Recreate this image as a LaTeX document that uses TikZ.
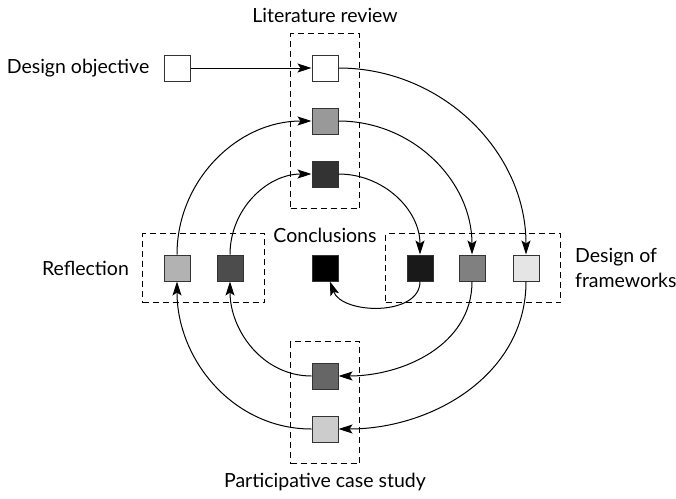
\documentclass[tikz,border=0pt]{standalone}
\usepackage{fontspec}
\setmainfont{Lato}
\usetikzlibrary{arrows.meta,fit}
\definecolor{edgegray}{HTML}{333333}
\begin{document}
\begin{tikzpicture}[x=1pt,y=1pt,
  box/.style={draw=edgegray, line width=1pt, minimum size=26pt, inner sep=0pt},
  group/.style={draw, dash pattern=on 6pt off 4pt, line width=0.9pt, inner sep=21pt},
  flow/.style={-{Stealth[length=14pt,width=9pt,inset=3pt]}, line width=1pt},
  lbl/.style={font=\fontsize{19.5}{25}\selectfont, inner sep=0pt}]
\useasboundingbox (0,0) rectangle (676,-498);

% steps
\node[box, fill=white]          (obj) at (177,-68)  {};
\node[box, fill=white]          (l1)  at (325,-68)  {};
\node[box, fill=black!40]       (l2)  at (325,-121) {};
\node[box, fill=black!80]       (l3)  at (325,-174) {};
\node[box, fill=black!90]       (f1)  at (420,-268) {};
\node[box, fill=black!50]       (f2)  at (472,-268) {};
\node[box, fill=black!10]       (f3)  at (526,-268) {};
\node[box, fill=black]          (c)   at (325,-268) {};
\node[box, fill=black!30]       (r1)  at (177,-268) {};
\node[box, fill=black!70]       (r2)  at (230,-268) {};
\node[box, fill=black!60]       (p1)  at (325,-376) {};
\node[box, fill=black!20]       (p2)  at (325,-429) {};

% phase groups
\node[group, fit=(l1)(l3)] (glit) {};
\node[group, fit=(f1)(f3)] (gfw)  {};
\node[group, fit=(r1)(r2)] (gref) {};
\node[group, fit=(p1)(p2)] (gcase) {};

% labels
\node[lbl] (tlit)  at (325,-15)  {Literature review};
\node[lbl, anchor=east] (tobj) at ([xshift=-14pt]obj.west) {Design objective};
\node[lbl, anchor=east] (tref) at ([xshift=-13pt]gref.west) {Reflection};
\node[lbl] (tcon)  at (325,-235) {Conclusions};
\node[lbl, anchor=west, align=left] (tfw) at ([xshift=14pt]gfw.east) {Design of\\frameworks};
\node[lbl] (tcase) at (325,-482) {Participative case study};

% flow between steps
\draw[flow] (obj) -- (l1);
\draw[flow] (l1.east) to[out=0,in=90] (f3.north);
\draw[flow] (l2.east) to[out=0,in=90] (f2.north);
\draw[flow] (l3.east) to[out=0,in=90] (f1.north);
\draw[flow] (f1.south) to[out=-90,in=-70] (c.-70);
\draw[flow] (f2.south) to[out=-90,in=0] (p1.east);
\draw[flow] (f3.south) to[out=-90,in=0] (p2.east);
\draw[flow] (p1.west) to[out=180,in=-90] (r2.south);
\draw[flow] (p2.west) to[out=180,in=-90] (r1.south);
\draw[flow] (r1.north) to[out=90,in=180] (l2.west);
\draw[flow] (r2.north) to[out=90,in=180] (l3.west);
\end{tikzpicture}
\end{document}
